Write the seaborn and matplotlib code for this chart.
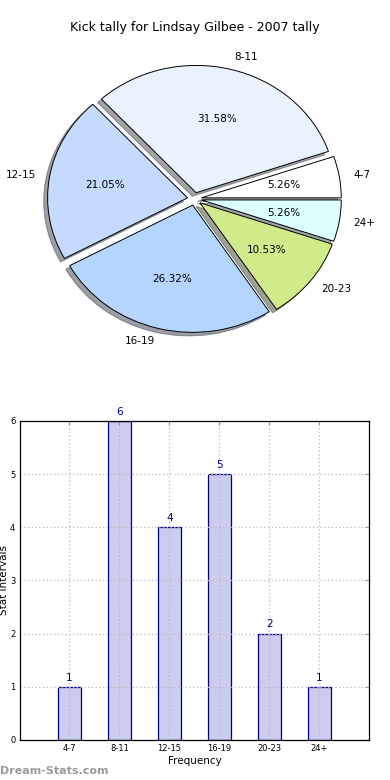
import matplotlib
matplotlib.use("Agg")
import matplotlib.pyplot as plt
import seaborn as sns
import pandas as pd

# data
categories = ["4-7", "8-11", "12-15", "16-19", "20-23", "24+"]
tally = [1, 6, 4, 5, 2, 1]
pie_colors = ["#ffffff", "#eaf1ff", "#c6d9ff", "#b4d5ff", "#d0eb89", "#dcffff"]
y_ticks = [0, 1, 2, 3, 4, 5, 6]

title = "Kick tally for Lindsay Gilbee - 2007 tally"

sns.set_style("white")
plt.rcParams["font.family"] = ["DejaVu Sans"]
plt.rcParams["text.color"] = "black"
plt.rcParams["axes.labelcolor"] = "black"
plt.rcParams["xtick.color"] = "black"
plt.rcParams["ytick.color"] = "black"

fig = plt.figure(figsize=(3.9, 7.8), dpi=100)

# pie (top)
ax1 = fig.add_axes([0.05, 0.541, 0.897, 0.408])
wedges, texts, autotexts = ax1.pie(
    tally,
    labels=categories,
    colors=pie_colors,
    explode=[0.05] * len(tally),
    autopct="%1.2f%%",
    shadow=True,
    startangle=0,
    wedgeprops={"edgecolor": "black", "linewidth": 0.7},
    textprops={"fontsize": 7.5, "color": "black"},
)
ax1.set_aspect("auto")
ax1.set_xlim(-1.25, 1.25)
ax1.set_ylim(-1.25, 1.25)
ax1.set_title(title, fontsize=9, pad=6, color="black")

# bar chart (bottom)
ax2 = fig.add_axes([0.05, 0.0513, 0.897, 0.409])
df = pd.DataFrame({"interval": categories, "count": tally})
sns.barplot(
    data=df,
    x="interval",
    y="count",
    color="#ccccee",
    saturation=1,
    width=0.47,
    edgecolor="#000088",
    linewidth=0.9,
    ax=ax2,
)
for i, v in enumerate(tally):
    ax2.text(i, v + 0.08, str(v), ha="center", va="bottom", color="#000088", fontsize=7.5)

ax2.set_xlim(-1, 6)
ax2.set_ylim(0, 6)
ax2.set_yticks(y_ticks)
ax2.grid(True, linestyle=(0, (1, 2)), color="#b8b8b8", linewidth=0.9)
ax2.set_axisbelow(False)
for s in ax2.spines.values():
    s.set_color("black")
    s.set_linewidth(0.9)
    s.set_zorder(5)
ax2.tick_params(axis="both", direction="in", length=3, color="#999999",
                labelsize=6, top=True, right=True, pad=3)
ax2.set_xlabel("Frequency", fontsize=7.5, labelpad=2)
ax2.set_ylabel("Stat Intervals", fontsize=7.5, labelpad=0)
ax2.yaxis.set_label_coords(-0.031, 0.5)

fig.text(0.0, 0.005, "Dream-Stats.com", color="#9a9a9a", fontsize=8,
         fontweight="bold", ha="left", va="bottom")

fig.savefig("out.png", dpi=100)
